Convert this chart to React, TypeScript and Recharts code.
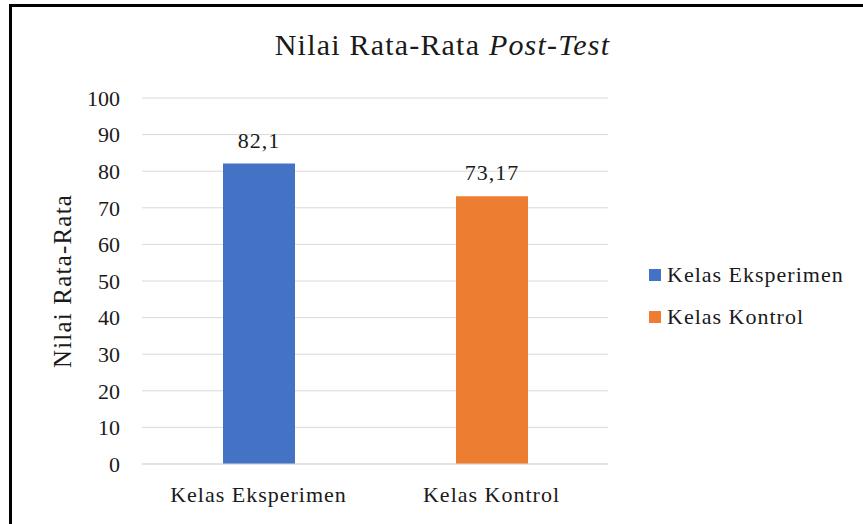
import React from 'react';
import { BarChart, Bar, XAxis, YAxis, CartesianGrid, Legend, LabelList, Cell } from 'recharts';

const categories = ['Kelas Eksperimen', 'Kelas Kontrol'];
const values = [82.1, 73.17];
const colors = ['#4472C4', '#ED7D31'];
const yTicks = [0, 10, 20, 30, 40, 50, 60, 70, 80, 90, 100];

const FONT = 'Liberation Serif, Tinos, DejaVu Serif, serif';

const data = categories.map((name, i) => ({ name, value: values[i] }));

const LegendBox = () => (
  <div style={{ fontFamily: FONT, fontSize: 22, color: '#1a1a1a', letterSpacing: 1, whiteSpace: 'nowrap' }}>
    {categories.map((c, i) => (
      <div key={c} style={{ display: 'flex', alignItems: 'center', height: 42 }}>
        <span style={{ flex: 'none', width: 12, height: 12, background: colors[i], marginRight: 6 }} />
        <span>{c}</span>
      </div>
    ))}
  </div>
);

const YLabel = () => (
  <text
    x={62}
    y={281}
    transform="rotate(-90 62 281)"
    textAnchor="middle"
    dominantBaseline="central"
    fontFamily={FONT}
    fontSize={25}
    letterSpacing={1.2}
    fill="#1a1a1a"
  >
    Nilai Rata-Rata
  </text>
);

export default function App() {
  return (
    <div style={{ position: 'absolute', left: 0, top: 0, width: 863, height: 524, overflow: 'hidden', background: '#fff' }}>
      {/* frame: only the left and top edges fall inside the picture */}
      <div style={{ position: 'absolute', left: 9, top: 4, width: 3, height: 520, background: '#000' }} />
      <div style={{ position: 'absolute', left: 9, top: 4, width: 854, height: 3, background: '#000' }} />
      <div
        style={{
          position: 'absolute', left: 0, width: 885, top: 29, textAlign: 'center',
          fontFamily: FONT, fontSize: 30, letterSpacing: 1.2, color: '#1a1a1a', lineHeight: '32px'
        }}
      >
        Nilai Rata-Rata <i>Post-Test</i>
      </div>
      <div style={{ position: 'absolute', left: 0, top: 0 }}>
        <BarChart width={863} height={524} data={data} margin={{ top: 98, right: 255, bottom: 20, left: 62 }}>
          <CartesianGrid vertical={false} stroke="#d9d9d9" />
          <XAxis
            dataKey="name"
            axisLine={{ stroke: '#d9d9d9' }}
            tickLine={false}
            tickSize={0}
            tickMargin={22}
            height={40}
            tick={{ fill: '#1a1a1a', fontSize: 22, fontFamily: FONT, letterSpacing: 1 }}
          />
          <YAxis
            domain={[0, 100]}
            ticks={yTicks}
            width={80}
            axisLine={false}
            tickLine={false}
            tickSize={0}
            tickMargin={22}
            tick={{ fill: '#1a1a1a', fontSize: 22, fontFamily: FONT }}
            label={{ content: () => <YLabel /> }}
          />
          <Legend
            layout="vertical"
            align="center"
            verticalAlign="middle"
            wrapperStyle={{ left: 649, top: 254, width: 210 }}
            content={() => <LegendBox />}
          />
          <Bar dataKey="value" barSize={72} isAnimationActive={false}>
            {data.map((d, i) => (
              <Cell key={d.name} fill={colors[i]} />
            ))}
            <LabelList
              dataKey="value"
              position="top"
              offset={16}
              formatter={(v: any) => String(v).replace('.', ',')}
              style={{ fill: '#1a1a1a', fontSize: 22, fontFamily: FONT, letterSpacing: 1 }}
            />
          </Bar>
        </BarChart>
      </div>
    </div>
  );
}
